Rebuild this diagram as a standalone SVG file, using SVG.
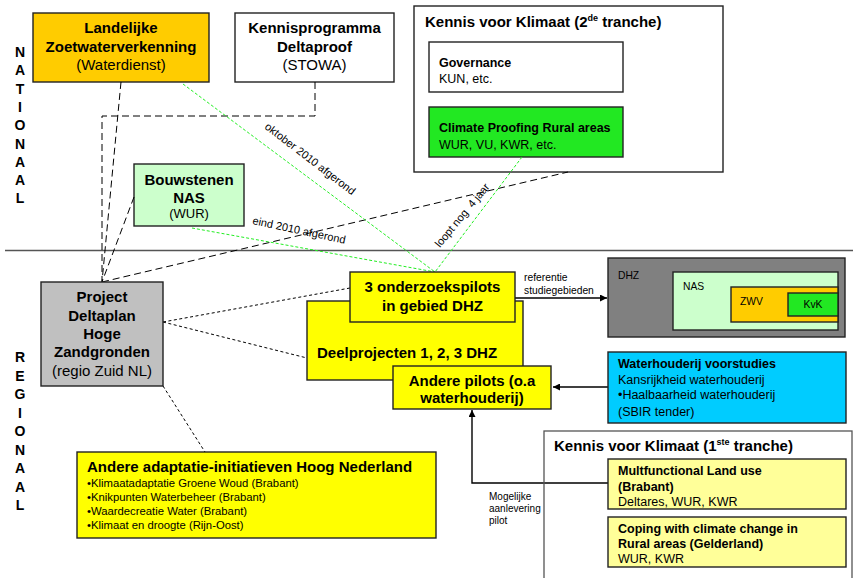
<svg xmlns="http://www.w3.org/2000/svg" width="853" height="578" viewBox="0 0 853 578">
<defs>
<marker id="arr" viewBox="0 0 10 10" refX="10" refY="5" markerWidth="9" markerHeight="7" orient="auto" markerUnits="userSpaceOnUse">
<path d="M0,0 L10,5 L0,10 z" fill="#000"/>
</marker>
</defs>
<style>
text{font-family:"Liberation Sans",Arial,sans-serif;fill:#000}
.b{font-weight:bold}
.c{text-anchor:middle}
.f15{font-size:15px}
.f125{font-size:12.5px}
.f113{font-size:11.3px}
.f11{font-size:11px}
.f10{font-size:10.3px}
.box{stroke:#222;stroke-width:1.4}
.dl{fill:none;stroke:#000;stroke-width:1;stroke-dasharray:7,4}
.ds{fill:none;stroke:#000;stroke-width:1;stroke-dasharray:3,2.5}
.gl{fill:none;stroke:#22ee22;stroke-width:1;stroke-dasharray:3,2}
.ar{fill:none;stroke:#000;stroke-width:1.4}
.lt{font-size:14px;font-weight:bold;text-anchor:middle}
</style>

<rect width="853" height="578" fill="#fff"/>

<g id="labels-side">
<text class="lt" x="20" y="57">N</text>
<text class="lt" x="20" y="75.3">A</text>
<text class="lt" x="20" y="93.6">T</text>
<text class="lt" x="20" y="111.9">I</text>
<text class="lt" x="20" y="130.2">O</text>
<text class="lt" x="20" y="148.5">N</text>
<text class="lt" x="20" y="166.8">A</text>
<text class="lt" x="20" y="185.1">A</text>
<text class="lt" x="20" y="203.4">L</text>
<text class="lt" x="20" y="362">R</text>
<text class="lt" x="20" y="380.5">E</text>
<text class="lt" x="20" y="399">G</text>
<text class="lt" x="20" y="417.5">I</text>
<text class="lt" x="20" y="436">O</text>
<text class="lt" x="20" y="454.5">N</text>
<text class="lt" x="20" y="473">A</text>
<text class="lt" x="20" y="491.5">A</text>
<text class="lt" x="20" y="510">L</text>
</g>

<line x1="5" y1="250.5" x2="853" y2="250.5" stroke="#555" stroke-width="1.3"/>

<g id="kvk2">
<rect class="box" x="414" y="6" width="309" height="166" fill="#fff" stroke="#111"/>
<text class="b f15" x="425" y="26.5">Kennis voor Klimaat (2<tspan font-size="9" dy="-6">de</tspan><tspan dy="6"> tranche)</tspan></text>
</g>
<g id="governance">
<rect class="box" x="429" y="42" width="194" height="50" fill="#fff" stroke="#555"/>
<text class="b f125" x="439" y="67">Governance</text>
<text class="f125" x="439" y="83">KUN, etc.</text>
</g>
<g id="climate-proofing">
<rect class="box" x="429" y="107" width="194" height="50" fill="#22e822"/>
<text class="b f125" x="439" y="132">Climate Proofing Rural areas</text>
<text class="f125" x="439" y="149">WUR, VU, KWR, etc.</text>
</g>

<g id="landelijke">
<rect class="box" x="33" y="13" width="176" height="69" fill="#ffcc00" stroke="#111"/>
<text class="b f15 c" x="121" y="33">Landelijke</text>
<text class="b f15 c" x="121" y="52">Zoetwaterverkenning</text>
<text class="f15 c" x="121" y="70" fill="#222">(Waterdienst)</text>
</g>
<g id="deltaproof">
<rect class="box" x="235" y="13" width="159" height="69" fill="#fff" stroke="#444"/>
<text class="b f15 c" x="314.5" y="33">Kennisprogramma</text>
<text class="b f15 c" x="314.5" y="52">Deltaproof</text>
<text class="f15 c" x="314.5" y="70">(STOWA)</text>
</g>
<g id="bouwstenen">
<rect class="box" x="134" y="164" width="110" height="62" fill="#ccffcc" stroke="#444"/>
<text class="b f15 c" x="189" y="185">Bouwstenen</text>
<text class="b f15 c" x="189" y="203">NAS</text>
<text class="c" x="189" y="218" font-size="13">(WUR)</text>
</g>

<g id="connectors">
<line class="dl" x1="121" y1="82" x2="102" y2="282"/>
<polyline class="dl" points="315,82 315,116 102,116 102,282"/>
<line class="dl" x1="134" y1="197" x2="102" y2="282"/>
<line class="dl" x1="102" y1="282" x2="568" y2="172"/>
<line class="gl" x1="183" y1="84" x2="435" y2="272"/>
<line class="gl" x1="192" y1="228" x2="435" y2="272"/>
<line class="gl" x1="522" y1="157" x2="435" y2="272"/>
<line class="ds" x1="163" y1="322" x2="350" y2="288"/>
<line class="ds" x1="163" y1="322" x2="307" y2="358"/>
<line class="ds" x1="163" y1="386" x2="205" y2="452"/>
<line class="ar" x1="515" y1="298" x2="607" y2="298" marker-end="url(#arr)"/>
<line class="ar" x1="608" y1="387" x2="553" y2="387" marker-end="url(#arr)"/>
<polyline class="ar" points="608,483 472,483 472,410" marker-end="url(#arr)"/>
<text class="f11" transform="translate(264,128) rotate(37.5)" fill="#222">oktober 2010 afgerond</text>
<text class="f11" transform="translate(252,224) rotate(12)" fill="#222">eind 2010 afgerond</text>
<text class="f11" transform="translate(440,248) rotate(-50.5)" fill="#222" xml:space="preserve">loopt nog  4 jaar</text>
<text class="f10" x="524" y="281" fill="#222">referentie</text>
<text class="f10" x="524" y="294" fill="#222">studiegebieden</text>
<text x="489" y="500" font-size="10" fill="#222">Mogelijke</text>
<text x="489" y="512" font-size="10" fill="#222">aanlevering</text>
<text x="489" y="524" font-size="10" fill="#222">pilot</text>
</g>

<g id="project">
<rect class="box" x="41" y="282" width="122" height="104" fill="#c0c0c0" stroke="#555"/>
<text class="b f15 c" x="102" y="302">Project</text>
<text class="b f15 c" x="102" y="321">Deltaplan</text>
<text class="b f15 c" x="102" y="339">Hoge</text>
<text class="b f15 c" x="102" y="357">Zandgronden</text>
<text class="f15 c" x="102" y="376" fill="#222">(regio Zuid NL)</text>
</g>

<g id="deelprojecten">
<rect class="box" x="307" y="301" width="216" height="79" fill="#ffff00"/>
<text class="b f15" x="317" y="358">Deelprojecten 1, 2, 3 DHZ</text>
</g>
<g id="onderzoekspilots">
<rect class="box" x="350" y="272" width="165" height="50" fill="#ffff00"/>
<text class="b f15 c" x="432.5" y="292">3 onderzoekspilots</text>
<text class="b f15 c" x="432.5" y="311">in gebied DHZ</text>
</g>
<g id="andere-pilots">
<rect class="box" x="393" y="366" width="158" height="43" fill="#ffff00"/>
<text class="b f15 c" x="472" y="386">Andere pilots (o.a</text>
<text class="b f15 c" x="472" y="403">waterhouderij)</text>
</g>

<g id="dhz">
<rect class="box" x="608" y="258" width="237" height="79" fill="#808080" stroke="#333"/>
<text class="f10" x="618" y="279">DHZ</text>
<rect class="box" x="673" y="272" width="165" height="58" fill="#ccffcc" stroke="#222"/>
<text class="f10" x="683" y="290">NAS</text>
<rect class="box" x="731" y="287" width="107" height="35" fill="#ffcc00" stroke="#222"/>
<text class="f10" x="740" y="305">ZWV</text>
<rect class="box" x="788" y="293" width="50" height="23" fill="#22e822" stroke="#222"/>
<text class="f10 c" x="813" y="308">KvK</text>
</g>

<g id="waterhouderij">
<rect class="box" x="608" y="352" width="238" height="71" fill="#00ccff" stroke="#333"/>
<text class="b f125" x="618" y="368">Waterhouderij voorstudies</text>
<text class="f125" x="618" y="384">Kansrijkheid waterhouderij</text>
<text class="f125" x="618" y="399">•Haalbaarheid waterhouderij</text>
<text class="f125" x="618" y="416">(SBIR tender)</text>
</g>

<g id="andere-adaptatie">
<rect class="box" x="77" y="452" width="359" height="86" fill="#ffff00" stroke="#111"/>
<text class="b f15" x="87" y="472">Andere adaptatie-initiatieven Hoog Nederland</text>
<text class="f113" x="87" y="487">•Klimaatadaptatie Groene Woud (Brabant)</text>
<text class="f113" x="87" y="501">•Knikpunten Waterbeheer (Brabant)</text>
<text class="f113" x="87" y="515">•Waardecreatie Water (Brabant)</text>
<text class="f113" x="87" y="529">•Klimaat en droogte (Rijn-Oost)</text>
</g>

<g id="kvk1">
<rect x="544" y="431" width="308" height="170" fill="none" stroke="#555" stroke-width="1.3"/>
<text class="b f15" x="554" y="451">Kennis voor Klimaat (1<tspan font-size="9" dy="-6">ste</tspan><tspan dy="6"> tranche)</tspan></text>
</g>
<g id="multifunctional">
<rect class="box" x="608" y="459" width="238" height="50" fill="#ffff99"/>
<text class="b f125" x="618" y="474.5">Multfunctional Land use</text>
<text class="b f125" x="618" y="490.5">(Brabant)</text>
<text class="f125" x="618" y="505.5">Deltares, WUR, KWR</text>
</g>
<g id="coping">
<rect class="box" x="608" y="517" width="238" height="50" fill="#ffff99"/>
<text class="b f125" x="618" y="532.5">Coping with climate change in</text>
<text class="b f125" x="618" y="547.5">Rural areas (Gelderland)</text>
<text class="f125" x="618" y="562.5">WUR, KWR</text>
</g>
</svg>
